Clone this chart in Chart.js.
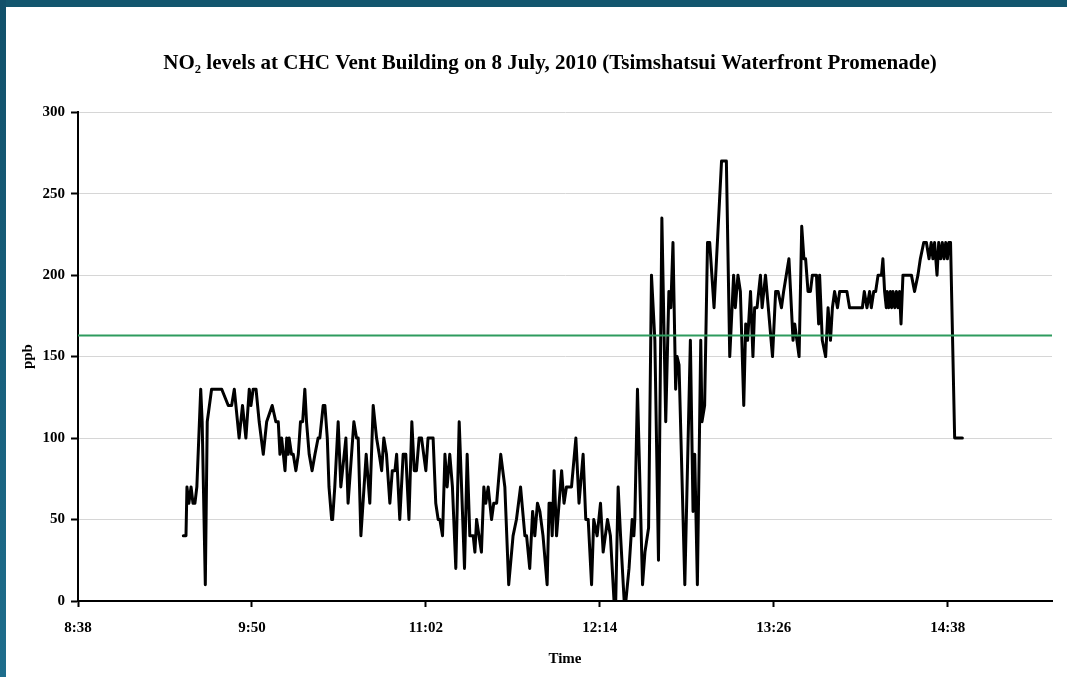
<!DOCTYPE html>
<html><head><meta charset="utf-8">
<script src="https://cdn.jsdelivr.net/npm/chart.js@4.4.1/dist/chart.umd.min.js"></script>
<style>
html,body{margin:0;padding:0;width:1067px;height:677px;overflow:hidden;background:#fff;}
#topband{position:absolute;left:0;top:0;width:1067px;height:7px;background:#13566e;}
#leftband{position:absolute;left:0;top:0;width:6px;height:677px;background:linear-gradient(#11506a,#1e6d8c);}
#wrap{position:absolute;left:6px;top:7px;width:1088px;height:670px;}
</style></head><body>
<div id="topband"></div><div id="leftband"></div>
<div id="wrap"><canvas id="c" width="1088" height="670"></canvas></div>
<script>
// Time of each reading, minutes after midnight (8 July 2010)
const timeMinutes = [
562.0,563.1,563.5,564.3,565.2,566.0,566.8,567.6,569.2,569.8,571.1,571.9,573.7,577.9,580.6,582.0,583.1,585.1,586.5,587.9,
589.3,590.0,590.9,592.1,593.4,595.1,596.5,598.8,600.3,601.3,602.0,602.7,604.1,604.8,605.4,605.8,606.8,607.5,608.6,609.6,
610.5,611.4,612.3,613.0,614.1,615.3,616.5,617.8,618.5,619.9,620.6,621.6,622.3,623.4,623.8,624.7,626.1,627.2,629.3,630.2,
632.6,633.7,634.4,635.5,637.7,639.2,640.6,642.0,643.1,644.1,645.0,646.1,647.5,648.5,649.6,650.3,651.6,653.0,654.1,655.4,
656.6,657.6,658.5,659.6,660.6,662.4,663.3,665.4,666.5,667.5,668.2,669.3,670.3,671.2,672.3,673.4,674.8,676.2,678.4,679.5,
680.6,682.0,682.7,683.4,685.4,686.4,687.2,688.2,689.6,690.5,691.7,693.4,695.1,696.7,698.5,699.9,701.6,703.4,704.1,705.4,
706.6,707.5,708.6,709.6,710.9,712.6,713.4,714.1,714.7,715.5,716.5,718.6,719.6,720.6,722.7,724.5,725.8,727.5,728.6,729.6,
731.0,731.9,733.3,734.7,735.8,737.6,738.8,740.3,741.0,742.0,743.0,744.5,745.2,746.5,747.8,748.5,748.9,750.0,752.1,753.1,
754.6,755.8,757.2,758.7,760.1,761.7,763.0,763.8,764.7,765.8,766.4,767.2,769.6,771.9,773.0,773.7,774.8,776.2,776.7,777.8,
779.0,779.9,781.7,784.8,786.8,788.2,789.8,790.5,791.6,792.6,794.0,794.8,795.6,796.8,797.8,798.5,799.5,800.9,801.6,803.0,
805.9,807.2,808.2,809.6,810.5,812.7,814.4,815.1,816.9,818.0,818.9,819.6,820.6,821.6,822.4,824.1,825.0,825.4,826.5,827.9,
828.9,829.9,830.7,831.6,832.8,833.7,836.7,837.8,843.1,843.9,845.0,846.1,846.8,847.8,848.6,849.6,851.0,851.6,852.3,853.0,
853.4,854.0,854.7,855.2,855.8,856.5,857.2,857.8,858.5,859.1,859.9,863.4,864.7,866.1,867.1,868.5,869.6,870.7,871.6,872.3,
873.0,874.0,874.7,875.5,876.2,876.9,877.6,878.3,878.9,879.6,881.3,884.5
];
// NO2 concentration, ppb
const no2Ppb = [
40,40,70,60,70,60,60,70,130,110,10,110,130,130,120,120,130,100,120,100,
130,120,130,130,110,90,110,120,110,110,90,100,80,100,90,100,90,90,80,90,
110,110,130,110,90,80,90,100,100,120,120,100,70,50,50,70,110,70,100,60,
110,100,100,40,90,60,120,100,90,80,100,90,60,80,80,90,50,90,90,50,
110,80,80,100,100,80,100,100,60,50,50,40,90,70,90,70,20,110,20,90,
40,40,30,50,30,70,60,70,50,60,60,90,70,10,40,50,70,40,40,20,
55,40,60,55,40,10,60,60,40,80,40,80,60,70,70,100,60,90,50,50,
10,50,40,60,30,50,40,0,0,70,40,0,0,20,50,40,50,130,10,30,
45,200,160,25,235,110,190,180,220,130,150,145,10,160,55,90,10,160,110,120,
220,220,180,270,270,150,200,180,200,190,120,170,160,190,150,180,180,200,180,200,
150,190,190,180,190,210,160,170,150,230,210,210,190,190,200,200,170,200,160,150,
180,160,180,190,180,190,190,180,180,190,180,190,180,190,190,200,200,210,190,180,
190,180,190,180,190,180,190,180,190,170,200,200,190,200,210,220,220,210,220,210,
220,200,220,210,220,210,220,210,220,220,100,100
];
const limitPpb = 163;
const tickLabels = ['8:38','9:50','11:02','12:14','13:26','14:38'];
const axisStartMin = 518.4, axisEndMin = 921.6, tickStepMin = 72;
const yTicks = [0,50,100,150,200,250,300];

const serif = '"Liberation Serif", "DejaVu Serif", serif';
const series = timeMinutes.map((t,i)=>({x:t,y:no2Ppb[i]}));
const limitLine = [{x:axisStartMin,y:limitPpb},{x:axisEndMin,y:limitPpb}];

new Chart(document.getElementById('c'), {
  type:'line',
  data:{datasets:[
    {label:'Limit', data:limitLine, borderColor:'#2e9b5e', borderWidth:2, pointRadius:0, order:0},
    {label:'NO2', data:series, borderColor:'#000', borderWidth:3, borderJoinStyle:'round', borderCapStyle:'round', pointRadius:0, tension:0, order:1}
  ]},
  options:{
    responsive:false, animation:false,
    layout:{padding:0},
    plugins:{
      legend:{display:false}, tooltip:{enabled:false},
      title:{display:true, text:'NO\u2082 levels at CHC Vent Building on 8 July, 2010 (Tsimshatsui Waterfront Promenade)',
        color:'#000', font:{family:serif, size:21, weight:'bold'}, padding:{top:44,bottom:36}}
    },
    scales:{
      x:{type:'linear', min:axisStartMin, max:axisEndMin,
        afterFit:s=>{s.height=76;},
        afterBuildTicks:s=>{s.ticks=tickLabels.map((l,i)=>({value:axisStartMin+i*tickStepMin}));},
        ticks:{color:'#000', font:{family:serif,size:15,weight:'bold'}, padding:12, maxRotation:0, autoSkip:false,
          callback:(v,i)=>tickLabels[i]},
        grid:{drawOnChartArea:false, drawTicks:true, tickLength:6, tickColor:'#000', tickWidth:2},
        border:{color:'#000', width:2},
        title:{display:true, text:'Time', color:'#000', font:{family:serif,size:15,weight:'bold'}, padding:{top:0,bottom:9}}
      },
      y:{min:0, max:300,
        afterFit:s=>{s.width=72;},
        afterBuildTicks:s=>{s.ticks=yTicks.map(v=>({value:v}));},
        ticks:{color:'#000', font:{family:serif,size:15,weight:'bold'}, padding:6},
        grid:{color:'#d6d6d6', lineWidth:1, drawTicks:true, tickLength:7, tickColor:'#000', tickWidth:2},
        border:{color:'#000', width:2},
        title:{display:true, text:'ppb', color:'#000', font:{family:serif,size:15,weight:'bold'}, padding:{top:13,bottom:0}}
      },
      yRightSpace:{position:'right', min:0, max:300,
        afterFit:s=>{s.width=42;},
        ticks:{display:false}, grid:{display:false}, border:{display:false}
      }
    }
  }
});
</script></body></html>
